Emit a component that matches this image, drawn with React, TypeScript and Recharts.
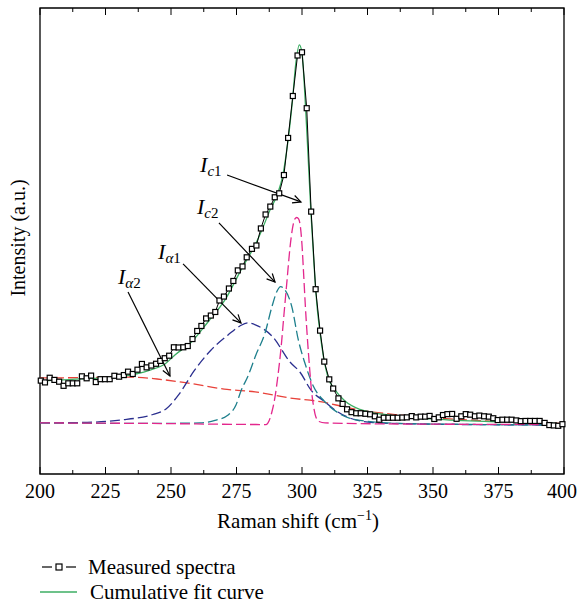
import { LineChart, Line, XAxis, YAxis, ReferenceLine, ReferenceArea, Label } from 'recharts';

// Raman shift (cm-1), intensity (a.u.)
const measured: [number, number][] = [
  [200.3, 521], [201.9, 511], [203.7, 537], [205.5, 525], [207.3, 515], [209.0, 492], [210.8, 506], [212.5, 506],
  [214.2, 506], [216.0, 545], [217.8, 534], [219.5, 549], [221.3, 513], [223.1, 529], [224.8, 529], [226.6, 529],
  [228.4, 548], [230.2, 543], [232.0, 552], [233.6, 571], [235.4, 558], [237.2, 582], [238.9, 614], [240.7, 595],
  [242.5, 605], [244.3, 615], [245.9, 631], [247.6, 646], [249.3, 660], [251.1, 707], [252.9, 706], [254.7, 707],
  [256.4, 714], [258.2, 753], [260.0, 798], [261.6, 826], [263.4, 868], [265.2, 884], [266.9, 904], [268.5, 968],
  [270.2, 990], [272.1, 1035], [273.8, 1077], [275.5, 1136], [277.3, 1158], [278.9, 1209], [280.9, 1256], [282.6, 1275],
  [284.3, 1370], [286.1, 1448], [287.9, 1492], [289.6, 1544], [291.3, 1566], [293.1, 1668], [294.7, 1875], [296.5, 2109],
  [298.3, 2335], [300.0, 2353], [301.8, 2041], [303.5, 1464], [305.2, 1031], [306.9, 800], [308.5, 627], [310.4, 528],
  [311.9, 477], [313.9, 422], [315.5, 391], [317.2, 361], [318.9, 345], [320.7, 339], [322.4, 339], [324.2, 336],
  [326.0, 333], [327.8, 322], [329.5, 303], [331.2, 314], [333.0, 314], [334.7, 314], [336.5, 314], [338.3, 315],
  [340.0, 316], [341.9, 323], [343.6, 316], [345.3, 320], [347.0, 320], [348.7, 324], [350.5, 307], [352.2, 316],
  [353.8, 329], [355.5, 334], [357.3, 335], [359.0, 308], [360.8, 322], [362.5, 334], [364.2, 331], [366.0, 322],
  [367.7, 326], [369.5, 322], [371.3, 320], [373.0, 311], [374.7, 301], [376.5, 303], [378.3, 303], [380.0, 303],
  [381.8, 299], [383.5, 295], [385.3, 296], [387.1, 296], [388.9, 296], [390.7, 296], [392.6, 285], [394.4, 273],
  [396.1, 271], [397.8, 269], [399.4, 278],
];

const cumulativeFit: [number, number][] = [
  [200, 519], [219.1, 533], [230.5, 544], [242, 580], [247.7, 614], [251.5, 664], [258, 739], [264.1, 848],
  [270.6, 971], [277.1, 1149], [282.1, 1278], [284.7, 1362], [287.8, 1473], [290.5, 1557], [292.7, 1668], [294.7, 1864],
  [296.2, 2059], [297.7, 2299], [299, 2394], [300, 2349], [301.1, 2115], [302.3, 1780], [303.4, 1462], [304.6, 1166],
  [305.7, 943], [306.9, 787], [308.4, 636], [309.9, 541], [312.6, 469], [316.4, 407], [322.1, 360], [327.9, 340],
  [333.6, 329], [348.9, 307], [371.8, 293], [394.7, 285], [399.6, 279],
];

// fitted components
const peakA2: [number, number][] = [
  [200, 536], [219.1, 538], [234.4, 541], [244.7, 530], [256.1, 508], [271.4, 472], [282.1, 458], [295.4, 424],
  [307.6, 402], [313, 385], [322.1, 357], [337.4, 329], [356.5, 307], [375.6, 293], [399.6, 282],
];

const peakA1: [number, number][] = [
  [200, 285], [215.3, 287], [230.5, 301], [243.1, 332], [248.1, 363], [253.1, 446], [258.8, 575], [265.3, 692],
  [271.8, 776], [276.3, 826], [279.4, 843], [282.4, 831], [288.9, 764], [295.4, 625], [299.2, 569], [303.4, 469],
  [308.8, 402], [312.6, 357], [318.3, 312], [327.1, 287], [345, 279], [399.6, 273],
];

const peakC2: [number, number][] = [
  [200, 285], [242, 282], [261.1, 285], [266.8, 299], [271.8, 329], [274.8, 385], [276.7, 463], [279.4, 547],
  [282.4, 664], [285.9, 787], [288.5, 932], [290.5, 1021], [291.8, 1046], [293.5, 1027], [296.1, 934], [298.6, 748],
  [301.1, 619], [304.3, 491], [308.8, 402], [314.5, 335], [322.1, 299], [337.4, 282], [399.6, 273],
];

const peakC1: [number, number][] = [
  [200, 285], [242, 282], [286.3, 276], [287.4, 296], [288.5, 346], [289.7, 430], [290.8, 547], [292, 703],
  [293.1, 887], [294.3, 1083], [295.4, 1261], [296.4, 1373], [297.3, 1423], [298, 1431], [298.7, 1423], [299.4, 1378],
  [300, 1278], [300.6, 1122], [301.3, 932], [302.1, 748], [302.9, 591], [303.6, 469], [304.4, 379], [305.3, 318],
  [306.5, 293], [308.8, 285], [337.4, 279], [399.6, 276],
];

const xTicks = [200, 212.5, 225, 237.5, 250, 262.5, 275, 287.5, 300, 312.5, 325, 337.5, 350, 362.5, 375, 387.5, 400];
const yTicks = [0, 100, 200, 300, 400, 500, 600, 700, 800, 900, 1000, 1100, 1200, 1300, 1400, 1500, 1600, 1700, 1800,
  1900, 2000, 2100, 2200, 2300, 2400, 2500, 2600];

// label subscript, arrow start, arrow tip
const annotations = [
  { sub: 'c', num: '1', from: [271.4, 1668], to: [299.6, 1518], dx: -27, dy: -3 },
  { sub: 'c', num: '2', from: [268.3, 1401], to: [289.7, 1071], dx: -22, dy: -9 },
  { sub: 'α', num: '1', from: [254.6, 1172], to: [276.7, 843], dx: -25, dy: -5 },
  { sub: 'α', num: '2', from: [233.6, 1016], to: [249.6, 547], dx: -10, dy: -8 },
];

const FONT = '"Liberation Serif", "DejaVu Serif", serif';
const W = 578, H = 603;
const TOP = 8, BOTTOM = 474, LEFT = 40, RIGHT = 564;
const serif = { fontFamily: FONT };

const toRows = (d: [number, number][]) => d.map(([x, y]) => ({ x, y }));

const XTick = (props: any) => {
  const { x, payload } = props;
  const major = payload.value % 25 === 0;
  const len = major ? 7 : 4;
  // keep the last label inside the page
  const lx = Math.min(x, W - 16);
  return (
    <g>
      <line x1={x} x2={x} y1={BOTTOM} y2={BOTTOM - len} stroke="#000" />
      <line x1={x} x2={x} y1={TOP} y2={TOP + len} stroke="#000" />
      {major && (
        <text x={lx} y={498} textAnchor="middle" style={serif} fontSize={20} fill="#000">
          {payload.value}
        </text>
      )}
    </g>
  );
};

const YTick = (props: any) => {
  const { y } = props;
  return (
    <g>
      <line x1={LEFT} x2={LEFT + 4} y1={y} y2={y} stroke="#000" />
      <line x1={RIGHT} x2={RIGHT - 4} y1={y} y2={y} stroke="#000" />
    </g>
  );
};

const SquareDot = (props: any) => {
  const { cx, cy } = props;
  if (cx == null || cy == null) return null;
  return <rect x={cx - 2.5} y={cy - 2.5} width={5} height={5} fill="#fff" stroke="#000" strokeWidth={1.2} />;
};

const arrowShape = (a: typeof annotations[number]) => (p: any) => {
  const { x1, y1, x2, y2 } = p;
  const ang = Math.atan2(y2 - y1, x2 - x1);
  const h = 9;
  const w = 0.45;
  return (
    <g>
      <line x1={x1} y1={y1} x2={x2} y2={y2} stroke="#000" strokeWidth={1.2} />
      <polyline
        points={`${x2 - h * Math.cos(ang - w)},${y2 - h * Math.sin(ang - w)} ${x2},${y2} ${x2 - h * Math.cos(ang + w)},${y2 - h * Math.sin(ang + w)}`}
        fill="none"
        stroke="#000"
        strokeWidth={1.2}
      />
      <text x={x1 + a.dx} y={y1 + a.dy} style={serif} fontSize={22} fill="#000">
        <tspan fontStyle="italic">I</tspan>
        <tspan dy={4} fontSize={15} fontStyle="italic">{a.sub}</tspan>
        <tspan fontSize={15}>{a.num}</tspan>
      </text>
    </g>
  );
};

// both axis titles, placed from the x axis box
const AxisTitles = ({ viewBox }: any) => {
  const cx = viewBox.x - 22;
  const cy = TOP + (viewBox.y - TOP) / 2 - 3;
  return (
    <g>
      <text x={viewBox.x + viewBox.width / 2 - 4} y={viewBox.y + 54} textAnchor="middle" style={serif} fontSize={21} fill="#000">
        Raman shift (cm<tspan dy={-8} fontSize={14}>−1</tspan><tspan dy={8}>)</tspan>
      </text>
      <text x={cx} y={cy} transform={`rotate(-90 ${cx} ${cy})`} textAnchor="middle" dominantBaseline="central"
        style={serif} fontSize={20} fill="#000">
        Intensity (a.u.)
      </text>
    </g>
  );
};

const dashed = { strokeDasharray: '10 4', strokeWidth: 1.3, dot: false, type: 'monotone' as const, isAnimationActive: false };

export default function App() {
  return (
    <div style={{ position: 'absolute', left: 0, top: 0, width: W, height: H, background: '#fff', overflow: 'hidden' }}>
      <LineChart width={W} height={H} margin={{ top: TOP, right: W - RIGHT, bottom: H - BOTTOM - 30, left: LEFT }}>
        <XAxis dataKey="x" type="number" domain={[200, 400]} ticks={xTicks} interval={0} height={30}
          axisLine={false} tickLine={false} tick={<XTick />} allowDuplicatedCategory={false}>
          <Label content={<AxisTitles />} />
        </XAxis>
        <YAxis type="number" domain={[0, 2600]} ticks={yTicks} interval={0} width={0}
          axisLine={false} tickLine={false} tick={<YTick />} />
        <ReferenceArea x1={200} x2={400} y1={0} y2={2600} fill="none" stroke="#000" strokeWidth={1.3} ifOverflow="visible" />
        <Line data={toRows(peakA2)} dataKey="y" stroke="#e8423a" {...dashed} />
        <Line data={toRows(peakA1)} dataKey="y" stroke="#2b2f8f" {...dashed} />
        <Line data={toRows(peakC2)} dataKey="y" stroke="#1d7f8c" {...dashed} />
        <Line data={toRows(peakC1)} dataKey="y" stroke="#e3278d" {...dashed} />
        <Line data={toRows(cumulativeFit)} dataKey="y" type="monotone" stroke="#3cae63" strokeWidth={1.3}
          dot={false} isAnimationActive={false} />
        <Line data={toRows(measured)} dataKey="y" type="linear" stroke="#000" strokeWidth={1}
          dot={<SquareDot />} isAnimationActive={false} />
        {annotations.map((a, i) => (
          <ReferenceLine key={i} segment={[{ x: a.from[0], y: a.from[1] }, { x: a.to[0], y: a.to[1] }]}
            ifOverflow="visible" shape={arrowShape(a)} />
        ))}
      </LineChart>
      <div style={{ position: 'absolute', left: 40, top: 556, fontFamily: FONT, fontSize: 21, color: '#000', lineHeight: '22px' }}>
        <div style={{ display: 'flex', alignItems: 'center', height: 22 }}>
          <svg width={38} height={12} style={{ marginRight: 10 }}>
            <line x1={2} x2={12} y1={6} y2={6} stroke="#000" strokeWidth={1.2} />
            <rect x={16} y={3} width={6} height={6} fill="#fff" stroke="#000" strokeWidth={1.2} />
            <line x1={26} x2={36} y1={6} y2={6} stroke="#000" strokeWidth={1.2} />
          </svg>
          <span>Measured spectra</span>
        </div>
        <div style={{ display: 'flex', alignItems: 'center', height: 22, marginTop: 3 }}>
          <svg width={38} height={12} style={{ marginRight: 12 }}>
            <line x1={0} x2={37} y1={6} y2={6} stroke="#3cae63" strokeWidth={1.5} />
          </svg>
          <span>Cumulative fit curve</span>
        </div>
      </div>
    </div>
  );
}
